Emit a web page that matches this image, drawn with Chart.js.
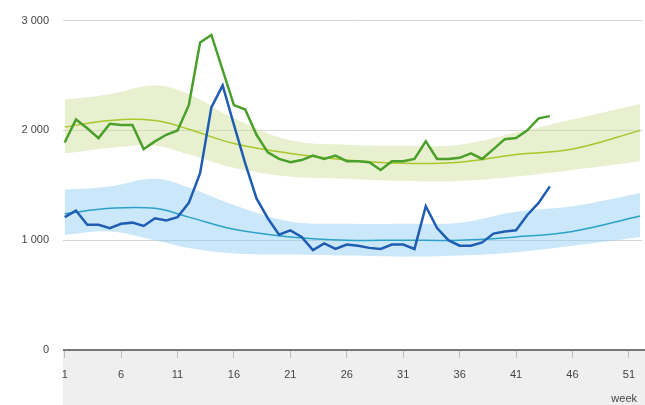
<!DOCTYPE html>
<html>
<head>
<meta charset="utf-8">
<script src="https://cdn.jsdelivr.net/npm/chart.js@4/dist/chart.umd.min.js"></script>
<style>
  html, body { margin: 0; padding: 0; background: #fff; }
  #wrap { width: 645px; height: 405px; }
</style>
</head>
<body>
<div id="wrap"><canvas id="grafico"></canvas></div>
<script>
// ===============================
// Datos
// ===============================
const weeks = [];
for (let w = 1; w <= 44; w++) weeks.push(w);
const xTicks = [1, 6, 11, 16, 21, 26, 31, 36, 41, 46, 51];
const yTicks = [0, 1000, 2000, 3000];

const greenSeries = [1890, 2100, 2020, 1930, 2060, 2050, 2050, 1830, 1900, 1960, 2000, 2230,
  2800, 2870, 2550, 2230, 2190, 1960, 1800, 1740, 1710, 1730, 1770, 1740, 1770, 1720, 1720,
  1710, 1640, 1720, 1720, 1740, 1900, 1740, 1740, 1750, 1790, 1740, 1830, 1920, 1930, 2000, 2110, 2130];
const blueSeries = [1210, 1270, 1140, 1140, 1110, 1150, 1160, 1130, 1200, 1180, 1210, 1340,
  1610, 2210, 2410, 2050, 1700, 1380, 1200, 1050, 1090, 1030, 910, 970, 920, 960, 950,
  930, 920, 960, 960, 920, 1310, 1110, 1000, 950, 950, 980, 1060, 1080, 1090, 1230, 1340, 1490];

// curvas de referencia (puntos de apoyo)
const refWeeks = [1, 5, 9, 12, 16, 21, 26, 31, 36, 41, 46, 52];
const greenMean = [2030, 2090, 2090, 2010, 1880, 1790, 1730, 1700, 1710, 1780, 1830, 2000];
const greenUpper = [2280, 2330, 2410, 2330, 2110, 1910, 1870, 1860, 1870, 1980, 2100, 2240];
const greenLower = [1790, 1840, 1860, 1780, 1660, 1580, 1560, 1540, 1540, 1580, 1640, 1720];
const blueMean = [1240, 1290, 1290, 1210, 1100, 1030, 1000, 1000, 1000, 1030, 1080, 1220];
const blueUpper = [1460, 1490, 1560, 1480, 1320, 1170, 1150, 1150, 1160, 1260, 1310, 1430];
const blueLower = [1050, 1080, 1000, 930, 880, 870, 860, 850, 860, 890, 950, 1030];

const pts = (xs, ys) => xs.map((x, i) => ({ x: x, y: ys[i] }));

// ===============================
// Plugin: fondo gris bajo el eje X
// ===============================
const fondoEje = {
  id: 'fondoEje',
  beforeDraw(chart) {
    const { ctx, chartArea } = chart;
    ctx.save();
    ctx.fillStyle = '#efefef';
    ctx.fillRect(chartArea.left, chartArea.bottom, chart.width - chartArea.left, chart.height - chartArea.bottom);
    ctx.restore();
  },
  afterDraw(chart) {
    const { ctx, chartArea } = chart;
    ctx.save();
    ctx.strokeStyle = '#777';
    ctx.lineWidth = 2;
    ctx.beginPath();
    ctx.moveTo(chartArea.left, chartArea.bottom);
    ctx.lineTo(chart.width, chartArea.bottom);
    ctx.stroke();
    ctx.fillStyle = '#444';
    ctx.font = '11px "Liberation Sans", Arial, sans-serif';
    ctx.textAlign = 'right';
    ctx.fillText('week', chart.width - 8, chart.height - 3);
    ctx.restore();
  }
};

const band = { pointRadius: 0, borderWidth: 0, tension: 0.4, order: 5 };

new Chart(document.getElementById('grafico'), {
  type: 'line',
  data: {
    datasets: [
      Object.assign({ data: pts(refWeeks, greenUpper), backgroundColor: 'rgba(205,222,150,0.45)', fill: false }, band),
      Object.assign({ data: pts(refWeeks, greenLower), backgroundColor: 'rgba(205,222,150,0.45)', fill: '-1' }, band),
      Object.assign({ data: pts(refWeeks, blueUpper), backgroundColor: 'rgba(140,205,245,0.45)', fill: false }, band),
      Object.assign({ data: pts(refWeeks, blueLower), backgroundColor: 'rgba(140,205,245,0.45)', fill: '-1' }, band),
      { data: pts(refWeeks, greenMean), borderColor: '#a9c62a', borderWidth: 1.5, pointRadius: 0, tension: 0.4, fill: false, order: 2 },
      { data: pts(refWeeks, blueMean), borderColor: '#2aa2c8', borderWidth: 1.5, pointRadius: 0, tension: 0.4, fill: false, order: 2 },
      { data: pts(weeks, greenSeries), borderColor: '#4b9f2b', borderWidth: 2.5, pointRadius: 0, tension: 0, fill: false, order: 0 },
      { data: pts(weeks, blueSeries), borderColor: '#1f5db3', borderWidth: 2.5, pointRadius: 0, tension: 0, fill: false, order: 0 }
    ]
  },
  options: {
    responsive: true,
    maintainAspectRatio: false,
    animation: false,
    layout: { padding: { top: 14, right: 0, bottom: 0, left: 22 } },
    plugins: { legend: { display: false }, tooltip: { enabled: false } },
    scales: {
      x: {
        type: 'linear',
        min: 0.85,
        max: 52.2,
        afterBuildTicks: (axis) => { axis.ticks = xTicks.map(v => ({ value: v })); },
        grid: { drawOnChartArea: false, drawTicks: true, tickLength: 8, color: '#bbb' },
        border: { display: false },
        ticks: { color: '#444', padding: 10, font: { size: 11, family: '"Liberation Sans", Arial, sans-serif' } },
        afterFit: (axis) => { axis.height = 55; }
      },
      y: {
        min: 0,
        max: 3000,
        afterBuildTicks: (axis) => { axis.ticks = yTicks.map(v => ({ value: v })); },
        grid: { color: '#d6d6d6', drawTicks: false },
        border: { display: false },
        ticks: {
          color: '#444', padding: 14,
          font: { size: 11, family: '"Liberation Sans", Arial, sans-serif' },
          callback: (v) => v === 0 ? '0' : String(v).replace(/\B(?=(\d{3})+(?!\d))/g, ' ')
        },
        afterFit: (axis) => { axis.width = 41; }
      }
    }
  },
  plugins: [fondoEje]
});
</script>
</body>
</html>
